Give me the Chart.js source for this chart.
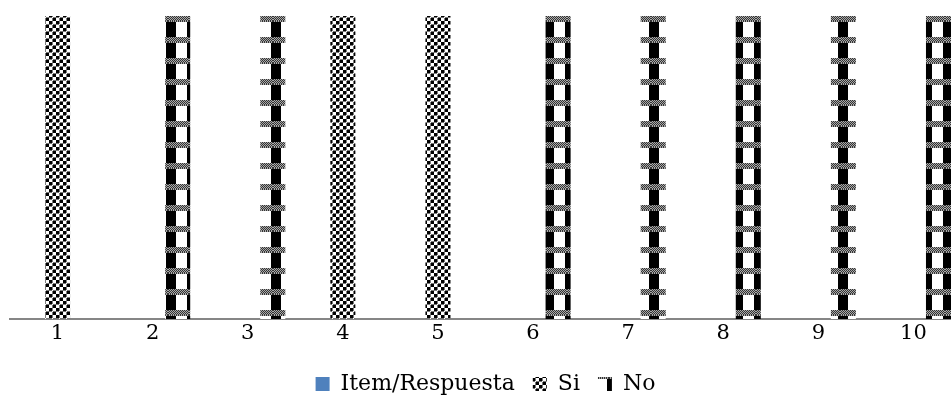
<!DOCTYPE html>
<html>
<head>
<meta charset="utf-8">
<script src="https://cdn.jsdelivr.net/npm/chart.js@4.4.0/dist/chart.umd.min.js"></script>
<style>
  html, body { margin: 0; padding: 0; background: #fff; overflow: hidden; }
  #wrap { width: 961px; height: 403px; }
</style>
</head>
<body>
<div id="wrap"><canvas id="chart" width="961" height="403"></canvas></div>
<script>
const categories = ["1", "2", "3", "4", "5", "6", "7", "8", "9", "10"];
const seriesNames = ["Item/Respuesta", "Si", "No"];
const itemValues = [0, 0, 0, 0, 0, 0, 0, 0, 0, 0];
const siValues = [1, 0, 0, 1, 1, 0, 0, 0, 0, 0];
const noValues = [0, 1, 1, 0, 0, 1, 1, 1, 1, 1];

// small checker board for "Si"
function siPattern() {
  const c = document.createElement("canvas");
  c.width = 7; c.height = 7;
  const g = c.getContext("2d");
  g.fillStyle = "#fff";
  g.fillRect(0, 0, 7, 7);
  g.fillStyle = "#000";
  g.fillRect(0, 0, 3, 3);
  g.fillRect(4, 4, 3, 3);
  g.fillStyle = "#777";
  g.fillRect(3, 0, 1, 3);
  g.fillRect(0, 3, 3, 1);
  g.fillRect(3, 4, 1, 3);
  g.fillRect(4, 3, 3, 1);
  return g.createPattern(c, "repeat");
}

// big block with dotted band for "No"
function noPattern() {
  const P = 21;
  const c = document.createElement("canvas");
  c.width = P; c.height = P;
  const g = c.getContext("2d");
  g.fillStyle = "#fff";
  g.fillRect(0, 0, P, P);
  for (let y = 0; y < P; y++) {
    for (let x = 0; x < P; x++) {
      const band = ((y - 16 + P) % P) < 6;
      let col = null;
      if (band) col = ((x + y) % 2 === 0) ? "#333" : "#aaa";
      else if (((x - 19 + P) % P) < 10) col = "#000";
      if (col) {
        g.fillStyle = col;
        g.fillRect(x, y, 1, 1);
      }
    }
  }
  return g.createPattern(c, "repeat");
}

const ctx = document.getElementById("chart").getContext("2d");
new Chart(ctx, {
  type: "bar",
  data: {
    labels: categories,
    datasets: [
      { label: seriesNames[0], data: itemValues, backgroundColor: "#4f81bd" },
      { label: seriesNames[1], data: siValues, backgroundColor: siPattern() },
      { label: seriesNames[2], data: noValues, backgroundColor: noPattern() }
    ]
  },
  options: {
    responsive: false,
    animation: false,
    layout: { padding: { top: 16, left: 10, right: 0, bottom: -2 } },
    datasets: { bar: { categoryPercentage: 0.79, barPercentage: 1.0 } },
    scales: {
      x: {
        grid: { display: false },
        border: { color: "#868686", width: 2 },
        afterFit: s => { s.height = 36; },
        ticks: {
          color: "#000",
          padding: -6,
          font: { family: "'DejaVu Serif', serif", size: 21 }
        }
      },
      y: { display: false, min: 0, max: 1 }
    },
    plugins: {
      legend: {
        position: "bottom",
        labels: {
          color: "#000",
          boxWidth: 14,
          boxHeight: 14,
          padding: 18,
          font: { family: "'DejaVu Serif', serif", size: 22 }
        }
      },
      tooltip: { enabled: false }
    }
  }
});
</script>
</body>
</html>
